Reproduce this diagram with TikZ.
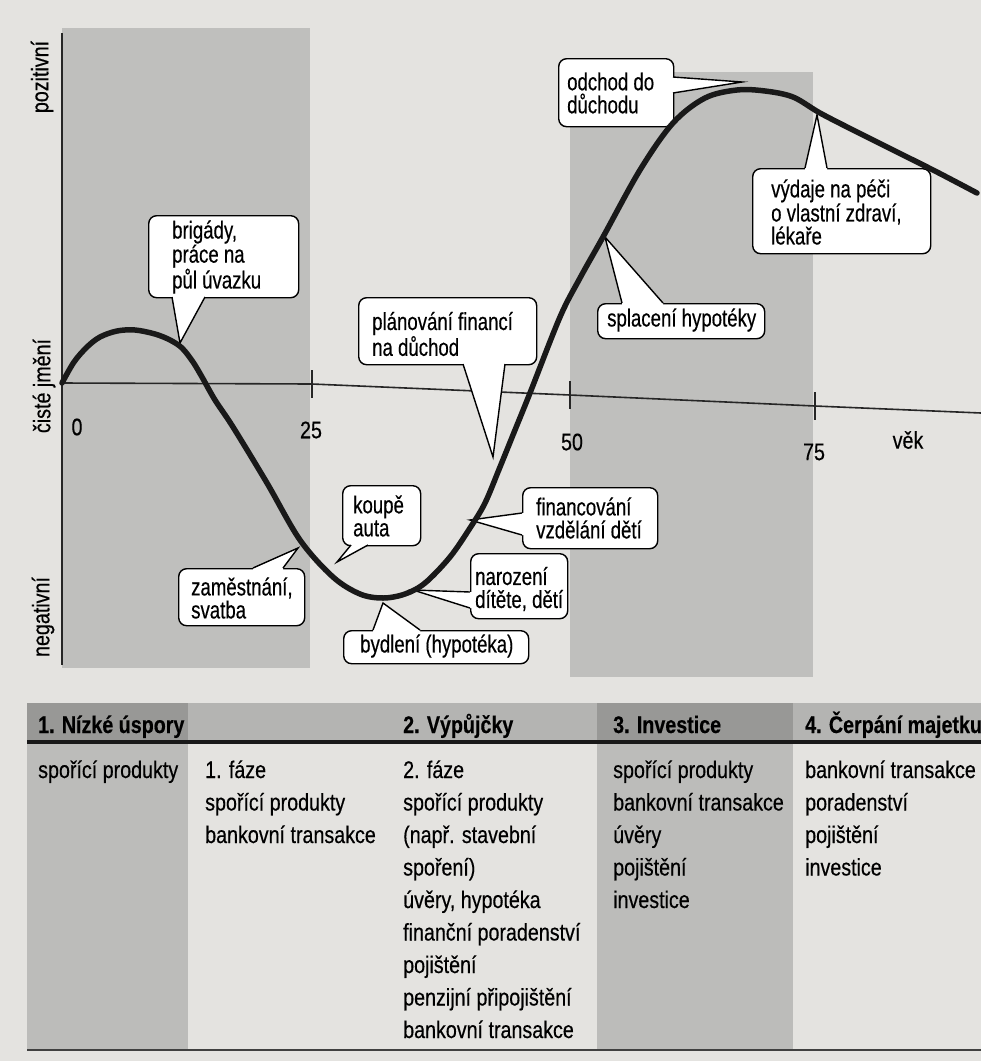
\documentclass[tikz,border=0pt]{standalone}
\usepackage{fontspec}
\setmainfont{Liberation Sans}[FakeStretch=0.82, FakeBold=0.4]
\newfontfamily\callfont{Liberation Sans}[FakeStretch=0.76, FakeBold=0.4]
\usetikzlibrary{calc}
\definecolor{bgc}{RGB}{228,227,224}
\definecolor{shadec}{RGB}{191,191,189}
\definecolor{hdrdark}{RGB}{152,152,150}
\definecolor{hdrlight}{RGB}{180,180,178}
\definecolor{colshade}{RGB}{188,188,186}
\newcommand\ptr[4]{%
  \fill[white] ($#1+#4$) -- #1 -- #2 -- #3 -- ($#3+#4$) -- cycle;
  \draw[ptrline] #1 -- #2 -- #3;}
\tikzset{
  callbox/.style={draw=black, line width=1.4pt, fill=white, rounded corners=8pt, inner sep=0pt, anchor=north west},
  calltext/.style={font=\callfont\fontsize{24.5}{23}\selectfont, align=left, inner sep=0pt, anchor=west},
  ptrline/.style={draw=black, line width=1.4pt, line join=miter},
  tabtext/.style={font=\fontsize{24}{24}\selectfont, inner sep=0pt, anchor=base west},
  tabhead/.style={font=\bfseries\fontsize{24}{24}\selectfont, inner sep=0pt, anchor=base west},
  axlabel/.style={font=\fontsize{24}{24}\selectfont, inner sep=0pt},
  axisline/.style={line width=1.6pt, black!85},
  curveline/.style={line width=5.5pt, black!90, line cap=round, line join=round},
}
\begin{document}
\begin{tikzpicture}[x=1pt,y=-1pt]
\fill[bgc] (0,0) rectangle (981,1061);
\useasboundingbox (0,0) rectangle (981,1061);
% shaded phases
\fill[shadec] (62,28) rectangle (310,668);
\fill[shadec] (570,72) rectangle (813,677);
% axes
\coordinate (ytop) at (62,33);
\coordinate (ybot) at (62,665);
\coordinate (O) at (62,383);
\coordinate (T25) at (312,384);
\coordinate (T50) at (570,395);
\coordinate (T75) at (815,406);
\coordinate (E) at (981,413);
\draw[axisline] (ytop) -- (ybot);
\draw[axisline] (O) -- (T25) -- (T50) -- (T75) -- (E);
\foreach \t in {T25,T50,T75}{\draw[axisline] ($(\t)+(0,-14)$) -- ($(\t)+(0,14)$);}
% axis labels
\node[axlabel] (l0) at (77,427) {0};
\node[axlabel] (l25) at (311,430) {25};
\node[axlabel] (l50) at (572,442) {50};
\node[axlabel] (l75) at (814,452) {75};
\node[axlabel] (lvek) at (908,440) {věk};
\node[axlabel, rotate=90] (lpoz) at (42,77) {pozitivní};
\node[axlabel, rotate=90] (lcis) at (44,386) {čisté jmění};
\node[axlabel, rotate=90] (lneg) at (43,617) {negativní};
% callouts
\coordinate (brigtip) at (180,343);
\node[callbox, minimum width=150pt, minimum height=82pt] (brig) at (148,215) {};
\ptr{(172,297)}{(brigtip)}{(205,297)}{(0,-3)}
\node[calltext] (brigt) at (172,257) {brigády,\\práce na\\půl úvazku};

\coordinate (plantip) at (493,457);
\node[callbox, minimum width=178pt, minimum height=67pt] (plan) at (358,297) {};
\ptr{(463,364)}{(plantip)}{(505,364)}{(0,-3)}
\node[calltext] (plant) at (372,334) {plánování financí\\na důchod};

\coordinate (odtip) at (742,82);
\node[callbox, minimum width=115pt, minimum height=68pt] (odch) at (558,58) {};
\ptr{(673,77)}{(odtip)}{(673,93)}{(-3,0)}
\node[calltext] (odcht) at (567,93) {odchod do\\důchodu};

\coordinate (vydtip) at (817,115);
\node[callbox, minimum width=178pt, minimum height=85pt] (vyd) at (752,168) {};
\ptr{(805,168)}{(vydtip)}{(827,168)}{(0,3)}
\node[calltext] (vydt) at (771,212) {výdaje na péči\\o vlastní zdraví,\\lékaře};

\coordinate (spltip) at (605,237);
\node[callbox, minimum width=167pt, minimum height=35pt] (spl) at (597,303) {};
\ptr{(622,303)}{(spltip)}{(663,303)}{(0,3)}
\node[calltext] (splt) at (607,320) {splacení hypotéky};

\coordinate (koutip) at (337,562);
\node[callbox, minimum width=78pt, minimum height=60pt] (kou) at (342,485) {};
\ptr{(351,545)}{(koutip)}{(368,545)}{(0,-3)}
\node[calltext] (kout) at (353,516) {koupě\\auta};

\coordinate (zamtip) at (298,548);
\node[callbox, minimum width=126pt, minimum height=57pt] (zam) at (178,568) {};
\ptr{(253,568)}{(zamtip)}{(283,568)}{(0,3)}
\node[calltext] (zamt) at (191,598) {zaměstnání,\\svatba};

\coordinate (bydtip) at (383,603);
\node[callbox, minimum width=185pt, minimum height=33pt] (byd) at (343,630) {};
\ptr{(373,630)}{(bydtip)}{(420,630)}{(0,3)}
\node[calltext] (bydt) at (360,646) {bydlení (hypotéka)};

\coordinate (nartip) at (413,590);
\node[callbox, minimum width=97pt, minimum height=65pt] (nar) at (470,553) {};
\ptr{(470,592)}{(nartip)}{(470,608)}{(3,0)}
\node[calltext] (nart) at (475,589) {narození\\dítěte, dětí};

\coordinate (fintip) at (470,520);
\node[callbox, minimum width=135pt, minimum height=61pt] (fin) at (522,487) {};
\ptr{(522,513)}{(fintip)}{(522,535)}{(3,0)}
\node[calltext] (fint) at (536,518) {financování\\vzdělání dětí};
% wealth curve
\draw[curveline] plot[smooth, tension=0.55] coordinates {
 (62,383) (74,362) (87,347) (100,337) (117,331) (135,330) (155,334) (170,340)
 (182,348) (193,362) (202,377) (215,400) (233,427) (267,483) (300,540)
 (333,577) (360,594) (383,598) (405,594) (425,583) (450,557) (470,528)
 (485,503) (500,467) (515,430) (530,393) (560,317) (580,278) (603,237)
 (640,170) (673,123) (705,98) (737,90) (765,91) (793,97) (820,113)
 (855,131) (893,150) (935,171) (977,193)};
% table
\fill[hdrlight] (27,703) rectangle (981,742);
\fill[hdrdark] (27,703) rectangle (188,742);
\fill[hdrdark] (597,703) rectangle (793,742);
\fill[colshade] (27,742) rectangle (188,1050);
\fill[colshade] (597,742) rectangle (793,1050);
\coordinate (rl) at (27,742);
\coordinate (rr) at (981,742);
\draw[line width=3.5pt, black!90] (rl) -- (rr);
\coordinate (bl) at (27,1050);
\coordinate (br) at (981,1050);
\draw[line width=1.4pt, black!75] (bl) -- (br);
\node[tabhead] (h1) at (38,733) {1. Nízké úspory};
\node[tabhead] (h2) at (403,733) {2. Výpůjčky};
\node[tabhead] (h3) at (613,733) {3. Investice};
\node[tabhead] (h4) at (805,733) {4. Čerpání majetku};
\node[tabtext] (c1a) at (38,778) {spořící produkty};
\foreach \s [count=\i from 0] in {{1. fáze}, {spořící produkty}, {bankovní transakce}}
  {\node[tabtext] (c2a\i) at (205,778+32.5*\i) {\s};}
\foreach \s [count=\i from 0] in {{2. fáze}, {spořící produkty}, {(např. stavební}, {spoření)}, {úvěry, hypotéka}, {finanční poradenství}, {pojištění}, {penzijní připojištění}, {bankovní transakce}}
  {\node[tabtext] (c2b\i) at (403,778+32.5*\i) {\s};}
\foreach \s [count=\i from 0] in {{spořící produkty}, {bankovní transakce}, {úvěry}, {pojištění}, {investice}}
  {\node[tabtext] (c3\i) at (613,778+32.5*\i) {\s};}
\foreach \s [count=\i from 0] in {{bankovní transakce}, {poradenství}, {pojištění}, {investice}}
  {\node[tabtext] (c4\i) at (805,778+32.5*\i) {\s};}
\end{tikzpicture}
\end{document}
